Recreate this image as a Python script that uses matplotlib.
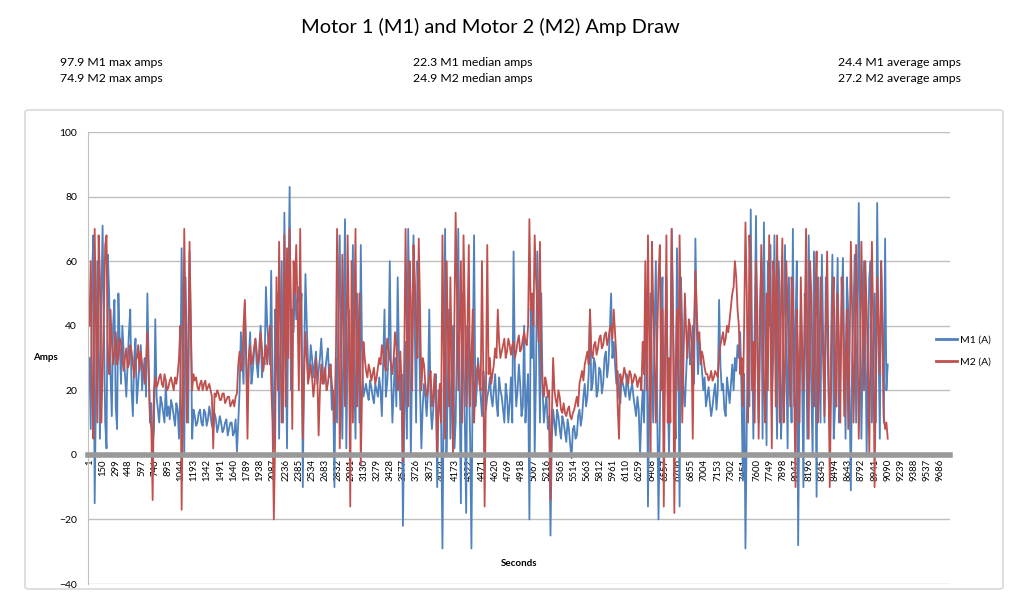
import numpy as np
import matplotlib.pyplot as plt
from matplotlib.patches import FancyBboxPatch

# amp readings, every 30 s starting at second 1
m1_amps = [
    30, 55, -15, 60, 5, 71, 10, 62, 25, 40, 15, 50, 22, 32, 18, 38, 20, 30, 16, 28,      # 1-571
    20, 30, 50, 10, 3, 42, 14, 18, 13, 22, 15, 17, 12, 16, 5, 64, 0, 30, 63, 5,          # 601-1171
    12, 10, 14, 9, 13, 11, 12, 8, 11, 9, 10, 8, 11, 8, 10, 7, 1, 20, 30, 47,             # 1201-1771
    15, 38, 26, 36, 24, 40, 30, 52, 34, 57, 2, 30, 5, 60, 75, 2, 83, 45, 55, 48,         # 1801-2371
    40, -10, 56, 28, 34, 24, 32, 26, 36, 22, 30, 24, 14, -10, 10, 68, 5, 73, 30, 10,     # 2401-2971
    65, 5, 40, 65, 18, 22, 17, 21, 16, 20, 24, 12, 45, 22, 60, 10, 30, 55, 14, -22,      # 3001-3571
    35, 70, 0, 68, 10, 45, 2, 22, 12, 45, 8, 20, -10, 15, -29, 70, 20, 5, 40, 10,        # 3601-4171
    70, -15, 30, -18, 25, -29, 68, 20, 25, 12, 22, 18, 24, 15, 25, 12, 20, 14, 22, 10,   # 4201-4771
    24, 63, 15, 28, 12, 40, 18, -20, 30, 0, 63, 10, 20, 15, 8, -25, 14, 6, 12, 5,        # 4801-5371
    10, 4, 8, -1, 9, 6, 14, 12, 22, 18, 45, 22, 28, 20, 26, 22, 32, 28, 50, 35,          # 5401-5971
    22, 18, 24, 20, 25, 17, 22, 15, 18, 0, 20, 35, -16, 50, 10, 60, -20, 40, 10, 55,     # 6001-6571
    0, 70, 20, 64, -16, 40, 15, 35, 28, 40, 67, 25, 32, 20, 15, 21, 12, 19, 14, 48,      # 6601-7171
    20, 14, 24, 16, 28, 30, 34, 38, -8, -29, 40, 76, 5, 74, 10, 60, 72, 3, 40, 15,       # 7201-7771
    68, 5, 50, 20, 65, 2, 30, 70, 40, -28, 45, -10, 35, 68, 20, 63, -13, 30, 62, 10,     # 7801-8371
    40, 5, 62, 15, 61, 25, 61, 5, 45, -11, 45, 10, 78, 5, 60, 0, 55, 10, 50, 78,         # 8401-8971
    5, 40, 67, 28,                                                                        # 9001-9091
]
# readings in between, every 30 s starting at second 16
m1_amps_mid = [
    8, 68, 20, 35, 45, 40, 2, 50, 12, 48, 8, 35, 40, 25, 28, 45, 12, 36, 22, 34,
    26, 18, 28, 16, 8, 18, 10, 16, 10, 12, 11, 15, 9, 14, 20, 30, 55, 10, 40, 14,
    9, 13, 10, 14, 9, 15, 9, 13, 7, 12, 7, 10, 6, 10, 6, 11, 10, 38, 22, 30,
    30, 22, 32, 28, 34, 24, 28, 40, 28, 20, 45, 50, 35, 10, 40, 50, 20, 38, 42, 52,
    50, 30, 40, 24, 30, 28, 22, 30, 28, 26, 33, 28, 20, 30, 45, 30, 40, 2, 45, 30,
    25, 50, 10, 30, 20, 19, 23, 18, 22, 18, 20, 28, 18, 30, 25, 20, 15, 30, 25, 10,
    5, 40, 30, 40, 60, 20, 15, 18, 20, 15, 14, 25, 20, 10, 20, 0, 45, 20, 2, 35,
    20, 50, 10, 40, 5, 30, 15, 30, 18, 26, 14, 20, 18, 20, 16, 24, 18, 10, 18, 16,
    10, 25, 20, 22, 15, 10, 25, 45, 50, 25, 40, 50, 10, 18, 12, 5, 10, 14, 8, 12,
    7, 11, 3, 8, 5, 12, 9, 18, 15, 25, 20, 30, 18, 27, 19, 30, 24, 38, 30, 28,
    26, 16, 22, 18, 21, 20, 18, 12, 14, 12, 10, 45, 20, 25, 40, 15, 10, 55, 30, 20,
    30, 45, 5, 30, 55, 20, 25, 40, 30, 22, 40, 35, 26, 24, 18, 16, 15, 22, 20, 28,
    22, 12, 20, 22, 20, 26, 30, 20, 25, 10, 15, 35, 40, 30, 45, 5, 35, 60, 65, 30,
    30, 60, 5, 40, 30, 55, 10, 15, 60, 20, 25, 50, 5, 40, 0, 35, 55, 10, 35, 55,
    20, 35, 5, 40, 10, 45, 30, 55, 20, 30, 62, 35, 45, 30, 40, 30, 60, 35, 10, 35,
    60, 10, 20,
]
m2_amps = [
    40, 20, 70, 10, 55, 25, 65, 30, 45, 28, 38, 30, 35, 26, 33, 28, 32, 24, 30, 26,
    28, 22, 38, 12, -14, 24, 22, 25, 21, 23, 21, 24, 20, 22, 30, -17, 70, 10, 66, 20,
    23, 21, 22, 20, 23, 21, 20, 2, 18, 19, 17, 19, 17, 18, 16, 15, 19, 32, 28, 48,
    5, 34, 30, 36, 28, 38, 26, 34, 36, 22, -20, 55, 66, 10, 68, 64, 70, 8, 50, 45,
    70, 5, 38, 22, 28, 18, 30, 6, 28, 24, 20, 26, 22, 10, 70, 2, 62, 15, 68, -16,
    10, 70, 30, -3, 35, 26, 28, 23, 27, 24, 30, 34, 28, 36, 30, 25, 38, 20, 32, -2,
    70, 15, 48, 65, 40, 67, 20, 28, 18, 24, 15, 25, 0, 22, 68, 5, 40, 55, 0, 75,
    20, 60, 68, 15, 65, 30, 10, 26, 22, 60, -16, 65, 30, 25, 33, 45, 30, 34, 30, 36,
    31, 35, 32, 37, 33, 38, 34, 73, 50, 68, 45, 66, 22, 24, 18, -14, 30, 17, 20, 14,
    16, 12, 15, 11, 14, 18, 22, 26, 28, 32, 45, 30, 35, 33, 37, 34, 38, 36, 40, 45,
    30, 5, 22, 27, 23, 26, 22, 25, 21, 24, 35, 60, 68, 0, 45, 10, 55, 20, -16, 68,
    30, 70, -18, 45, 68, 10, 50, 30, 40, 5, 57, 35, 28, 30, 25, 23, 26, 24, 25, 30,
    36, 34, 40, 42, 50, 60, 45, 25, 15, 72, 10, 55, 35, 60, 5, 65, 20, 50, 68, 2,
    55, 68, 10, 67, 25, 45, 15, 50, -10, 30, 55, 20, 70, 5, 50, 15, 63, 25, 40, 12,
    63, -10, 45, 20, 50, 10, 40, 30, 8, 66, 10, 65, 5, 66, 20, 45, 0, 66, -10, 55,
    25, 40, 8, 5,
]
m2_amps_mid = [
    60, 5, 40, 68, 10, 45, 68, 25, 35, 32, 28, 36, 30, 30, 27, 34, 28, 29, 34, 32,
    26, 28, 25, 8, 20, 21, 24, 22, 25, 20, 23, 22, 24, 25, 40, 20, 40, 30, 40, 25,
    24, 20, 23, 22, 20, 22, 18, 19, 20, 17, 19, 16, 18, 15, 17, 18, 28, 26, 40, 30,
    30, 28, 33, 32, 30, 33, 30, 28, 40, 10, 5, 20, 40, 20, 15, 30, 45, 60, 65, 20,
    30, 25, 30, 25, 24, 22, 25, 20, 22, 27, 22, 28, 18, 25, 50, 20, 40, 30, 40, 60,
    40, 15, 50, 20, 30, 24, 26, 25, 22, 27, 28, 32, 26, 33, 28, 30, 34, 24, 22, 30,
    35, 60, 20, 55, 30, 45, 30, 22, 20, 26, 18, 20, 15, 10, 30, 60, 15, 30, 40, 50,
    40, 10, 45, 40, 15, 45, 22, 28, 20, 25, 20, 25, 22, 28, 30, 35, 32, 36, 32, 34,
    34, 30, 35, 32, 36, 35, 40, 45, 40, 55, 35, 30, 18, 22, 20, 12, 20, 15, 18, 13,
    13, 14, 12, 13, 16, 15, 24, 23, 30, 28, 32, 34, 31, 36, 33, 37, 34, 39, 36, 38,
    15, 25, 24, 25, 22, 25, 23, 24, 23, 20, 25, 20, 35, 66, 30, 35, 65, 45, 30, 10,
    10, 40, 25, 20, 40, 30, 38, 42, 35, 40, 45, 38, 32, 27, 25, 24, 23, 26, 24, 34,
    38, 36, 38, 46, 52, 55, 40, 30, 40, 50, 68, 20, 10, 45, 35, 50, 10, 20, 40, 60,
    15, 40, 45, 10, 60, 30, 55, 20, 45, 10, 35, 40, 30, 60, 25, 45, 10, 55, 30, 40,
    30, 20, 55, 15, 35, 55, 12, 45, 30, 45, 30, 40, 25, 45, 60, 30, 35, 40, 25, 40,
    60, 12, 10,
]

tick_seconds = list(range(1, 9687, 149))
max_amps = [97.9, 74.9]
median_amps = [22.3, 24.9]
average_amps = [24.4, 27.2]


def merge(main, mid):
    """Interleave the on-the-30s readings with the in-between ones."""
    n = len(main) + len(mid)
    t = np.empty(n)
    v = np.empty(n)
    t[0::2] = 1 + 30 * np.arange(len(main))
    t[1::2] = 16 + 30 * np.arange(len(mid))
    v[0::2] = main
    v[1::2] = mid
    return t, v


t1, m1 = merge(m1_amps, m1_amps_mid)
t2, m2 = merge(m2_amps, m2_amps_mid)

plt.rcParams['font.family'] = ['Lato', 'DejaVu Sans']

W, H = 1024, 609
fig = plt.figure(figsize=(W / 100, H / 100), dpi=100)

# outer chart frame
frame = FancyBboxPatch((25 / W, 1 - 589 / H), (1003 - 25) / W, (589 - 110) / H,
                       boxstyle='round,pad=0,rounding_size=0.004',
                       transform=fig.transFigure, fill=False,
                       edgecolor='#D9D9D9', lw=1.2)
fig.patches.append(frame)

ax = fig.add_axes([88 / W, 1 - 584 / H, (950 - 88) / W, (584 - 132) / H])
ax.plot(t1, m1, color='#4F81BD', lw=1.3, label='M1 (A)')
ax.plot(t2, m2, color='#C0504D', lw=1.3, label='M2 (A)')

ax.set_ylim(-40, 100)
ax.set_yticks(range(-40, 101, 20))
ax.set_xlim(-15, 9800)
ax.set_xticks(tick_seconds)
ax.set_xticklabels([str(t) for t in tick_seconds])
ax.tick_params(axis='x', length=0, pad=3, labelsize=6.8, colors='black',
               labelrotation=90)
ax.tick_params(axis='y', length=0, pad=8, labelsize=7.5, colors='black')
ax.grid(axis='y', color='#BFBFBF', lw=1)
ax.set_axisbelow(True)

for side in ['top', 'right']:
    ax.spines[side].set_visible(False)
ax.spines['left'].set_color('#BFBFBF')
ax.spines['bottom'].set_position(('data', 0))
ax.spines['bottom'].set_color('#999999')
ax.spines['bottom'].set_linewidth(4)
ax.spines['bottom'].set_zorder(3)

leg = ax.legend(loc='center left', bbox_to_anchor=(927 / W, 1 - 351 / H),
                bbox_transform=fig.transFigure, frameon=False, fontsize=7.5,
                handlelength=2.0, handletextpad=0.3, labelspacing=1.2)
for line in leg.get_lines():
    line.set_linewidth(2)

# titles and labels
fig.text(490 / W, 1 - 27 / H, 'Motor 1 (M1) and Motor 2 (M2) Amp Draw',
         ha='center', va='center', fontsize=14.4)
fig.text(45 / W, 1 - 358 / H, 'Amps', ha='center', va='center',
         fontsize=7, fontweight='bold')
fig.text(519 / W, 1 - 564 / H, 'Seconds', ha='center', va='center',
         fontsize=7, fontweight='bold')

stat_x = [60, 413, 838]
stat_rows = [
    [f'{max_amps[0]} M1 max amps', f'{median_amps[0]} M1 median amps', f'{average_amps[0]} M1 average amps'],
    [f'{max_amps[1]} M2 max amps', f'{median_amps[1]} M2 median amps', f'{average_amps[1]} M2 average amps'],
]
for row, y in zip(stat_rows, [63, 79]):
    for txt, x in zip(row, stat_x):
        fig.text(x / W, 1 - y / H, txt, ha='left', va='center', fontsize=8.8)

fig.savefig('out.png', dpi=100)
